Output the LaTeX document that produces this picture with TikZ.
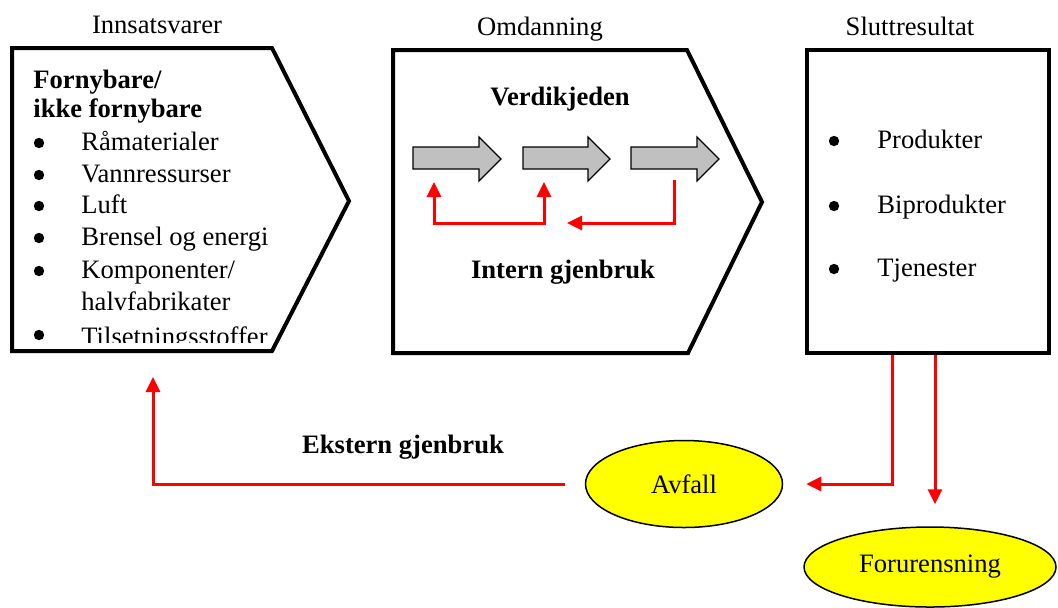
\documentclass[tikz,border=0pt]{standalone}
\usepackage{fontspec}
\setmainfont{Liberation Serif}
\usetikzlibrary{arrows.meta, shapes.geometric, positioning}
\definecolor{BlockGray}{RGB}{192,192,192}
\definecolor{FlowRed}{RGB}{255,0,0}
\definecolor{WasteYellow}{RGB}{255,255,0}

\tikzset{
  frame/.style={line width=2pt, line join=miter},
  txt/.style={font=\fontsize{13.3}{16}\selectfont, inner sep=0pt, anchor=base west},
  head/.style={txt, font=\fontsize{13.3}{16}\selectfont\bfseries},
  title/.style={txt, anchor=base},
  dot/.style={circle, fill, inner sep=0pt, minimum size=5.2pt},
  redflow/.style={draw=FlowRed, line width=1.5pt, line join=miter},
  tip/.style={-{Triangle[length=7.5pt, width=7pt]}},
  blob/.style={ellipse, draw, line width=0.75pt, fill=WasteYellow, inner sep=0pt,
               font=\fontsize{13.3}{16}\selectfont}
}

\begin{document}
\begin{tikzpicture}[x=0.5pt, y=-0.5pt]
    \useasboundingbox (0,0) rectangle (1058,607);

    % headings over the boxes
    \node[title] (tin) at (157,33) {Innsatsvarer};
    \node[title] (tom) at (540,35) {Omdanning};
    \node[title] (tsl) at (910,35) {Sluttresultat};

    % Innsatsvarer
    \draw[frame] (12,48) -- (272,48) -- (349,201) -- (272,351) -- (12,351) -- cycle;
    \node[head] (forn) at (33,88) {Fornybare/};
    \node[head] (ikke) at (33,117) {ikke fornybare};
    \foreach \y [count=\i] in {143,175,206,238,271,335}
      \node[dot] (bin\i) at (39,\y) {};
    \node[txt] (raa) at (81,150) {Råmaterialer};
    \node[txt] (vann) at (81,182) {Vannressurser};
    \node[txt] (luft) at (81,213) {Luft};
    \node[txt] (bren) at (81,245) {Brensel og energi};
    \node[txt] (komp) at (81,278) {Komponenter/};
    \node[txt] (halv) at (81,310) {halvfabrikater};
    \begin{scope}
      \clip (12,300) rectangle (300,342);
      \node[txt] (tils) at (81,345) {Tilsetningsstoffer};
    \end{scope}

    % Omdanning
    \draw[frame] (393,50) -- (687,50) -- (762,202) -- (688,353) -- (393,353) -- cycle;
    \node[head, anchor=base] (verdi) at (560,105) {Verdikjeden};
    \foreach \xa/\xb/\xc in {413/479/501, 523/588/610, 631/697/719}
      \draw[fill=BlockGray, line width=0.6pt] (\xa,147) -- (\xb,147) -- (\xb,137) -- (\xc,159)
        -- (\xb,181) -- (\xb,169) -- (\xa,169) -- cycle;
    \coordinate (ra) at (434,182);
    \coordinate (rb) at (544,182);
    \coordinate (rc) at (674,180);
    \coordinate (rd) at (567,223);
    \draw[redflow, {Triangle[length=7.5pt, width=7pt]}-{Triangle[length=7.5pt, width=7pt]}]
      (ra) -- (434,223) -- (544,223) -- (rb);
    \draw[redflow, tip] (rc) |- (rd);
    \node[head, anchor=base] (intern) at (563,278) {Intern gjenbruk};

    % Sluttresultat
    \node[frame, draw, minimum width=121pt, minimum height=151.5pt, inner sep=0pt]
      (slutt) at (928,201.5) {};
    \foreach \y [count=\i] in {141,206,269}
      \node[dot] (bsl\i) at (834,\y) {};
    \node[txt] (prod) at (877,148) {Produkter};
    \node[txt] (bipr) at (877,213) {Biprodukter};
    \node[txt] (tjen) at (877,276) {Tjenester};

    % Avfall og forurensning
    \node[blob, minimum width=98.5pt, minimum height=43.5pt] (avfall) at (684,484) {Avfall};
    \node[blob, minimum width=126pt, minimum height=40pt] (forur) at (930,567) {Forurensning};
    \draw[redflow, tip, shorten >=11.5pt] ([xshift=-18pt]slutt.south) |- (avfall.east);
    \draw[redflow, tip, shorten >=11pt] ([xshift=3.5pt]slutt.south) -- ([xshift=3.5pt]slutt.south |- forur.north);

    % Ekstern gjenbruk
    \coordinate (ext) at (153,377);
    \draw[redflow, tip, shorten <=10pt] (avfall.west) -| (ext);
    \node[head, anchor=base] (ekst) at (403,453) {Ekstern gjenbruk};
\end{tikzpicture}
\end{document}
